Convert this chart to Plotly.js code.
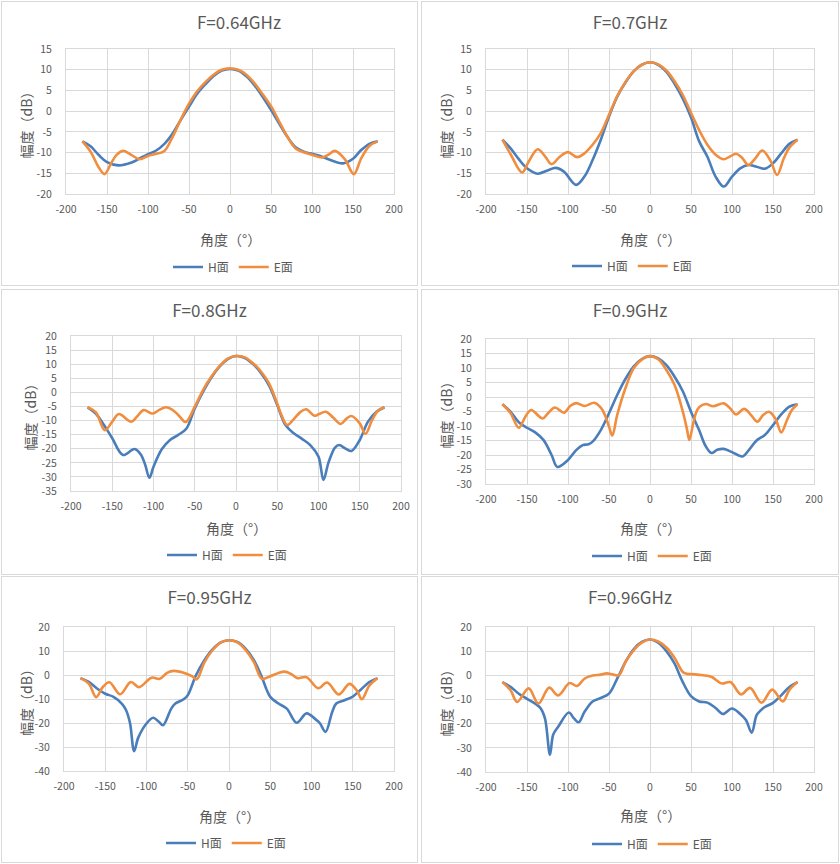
<!DOCTYPE html>
<html>
<head>
<meta charset="utf-8">
<script src="https://cdn.plot.ly/plotly-3.0.1.min.js"></script>
<style>
  body { margin: 0; background: #fff; }
  .panel { position: absolute; border: 1px solid #d9d9d9; box-sizing: border-box; background: #fff; }
</style>
</head>
<body>
<div id="p1" class="panel"></div>
<div id="p2" class="panel"></div>
<div id="p3" class="panel"></div>
<div id="p4" class="panel"></div>
<div id="p5" class="panel"></div>
<div id="p6" class="panel"></div>
<script>
// values, angle in degrees / level in dB
const titles = ["F=0.64GHz", "F=0.7GHz", "F=0.8GHz", "F=0.9GHz", "F=0.95GHz", "F=0.96GHz"]
const seriesNames = ["H面", "E面"]
const xTicks = [-200, -150, -100, -50, 0, 50, 100, 150, 200]
const yTicksA = [-20, -15, -10, -5, 0, 5, 10, 15]
const yTicksB = [-35, -30, -25, -20, -15, -10, -5, 0, 5, 10, 15, 20]
const yTicksC = [-30, -25, -20, -15, -10, -5, 0, 5, 10, 15, 20]
const yTicksD = [-40, -30, -20, -10, 0, 10, 20]

// F=0.64GHz
const h064Deg = [-180,-170,-160,-150,-136,-120,-110,-100,-90,-80,-70,-60,-50,-40,-30,-20,-10,0,10,20,30,40,50,60,70,80,90,100,110,120,138,150,160,170,180]
const h064Db  = [-7.3,-8.5,-10.6,-12.3,-13.1,-12.4,-11.4,-10.4,-9.5,-7.9,-5.4,-2.1,1.1,4.2,6.5,8.5,9.8,10.2,9.8,8.4,6.2,3.4,0.3,-3.0,-6.2,-8.7,-9.8,-10.3,-10.8,-11.6,-12.6,-11.5,-9.4,-7.9,-7.3]
const e064Deg = [-180,-170,-160,-153,-145,-138,-130,-120,-110,-100,-90,-80,-70,-60,-50,-40,-30,-20,-10,0,10,20,30,40,50,60,70,80,90,100,112,120,128,140,151,160,170,180]
const e064Db  = [-7.3,-9.8,-13.6,-15.2,-12.6,-10.5,-9.6,-10.6,-11.6,-10.8,-10.3,-9.6,-6.2,-2.0,1.8,4.8,7.0,8.8,10.0,10.3,10.0,8.8,6.7,4.0,1.2,-2.5,-6.2,-9.0,-9.9,-10.5,-11.2,-10.5,-9.6,-11.6,-15.2,-11.4,-8.4,-7.3]

// F=0.7GHz
const h070Deg = [-180,-170,-160,-150,-137,-125,-115,-105,-90,-80,-70,-60,-50,-40,-30,-20,-10,0,10,20,30,40,50,60,70,80,90,100,110,120,130,140,150,160,170,180]
const h070Db  = [-6.9,-9.0,-11.6,-13.8,-15.1,-14.3,-13.7,-14.6,-17.8,-15.8,-11.8,-6.9,-1.3,3.5,6.9,9.6,11.2,11.8,11.2,9.5,6.6,3.0,-1.5,-7.3,-11.0,-15.8,-18.2,-15.8,-13.8,-13.0,-13.4,-13.9,-12.6,-10.2,-7.9,-6.9]
const e070Deg = [-180,-170,-156,-148,-137,-128,-120,-110,-100,-89,-80,-70,-60,-50,-40,-30,-20,-10,0,10,20,30,40,50,60,70,80,90,97,105,112,120,128,137,147,155,163,170,180]
const e070Db  = [-6.9,-10.4,-14.8,-12.2,-9.2,-10.9,-12.8,-11.0,-9.9,-11.1,-10.2,-8.1,-5.3,-0.9,3.6,7.0,9.6,11.2,11.8,11.3,9.8,7.2,3.9,-0.4,-4.6,-8.1,-10.5,-11.6,-11.0,-10.3,-11.2,-13.0,-11.5,-9.5,-12.0,-15.4,-11.5,-8.8,-6.9]

// F=0.8GHz
const h080Deg = [-180,-170,-160,-150,-137,-123,-115,-110,-105,-100,-90,-80,-70,-60,-50,-40,-30,-20,-10,0,10,20,30,40,50,60,70,80,90,100,106,112,120,125,133,140,150,160,170,180]
const h080Db  = [-5.3,-7.5,-11.6,-16.3,-22.2,-20.1,-22.2,-25.8,-30.3,-26.4,-20.2,-16.9,-15.1,-12.8,-5.7,0.2,5.2,9.1,11.8,12.9,12.3,10.2,7.0,2.5,-4.5,-11.6,-14.5,-16.5,-18.7,-22.8,-31.1,-25.0,-19.6,-18.7,-20.0,-20.8,-16.9,-10.4,-7.0,-5.3]
const e080Deg = [-180,-170,-159,-150,-142,-127,-120,-112,-101,-93,-85,-78,-70,-61,-50,-40,-30,-20,-10,0,10,20,30,40,50,55,62,70,78,85,95,100,109,118,127,134,140,150,157,165,172,180]
const e080Db  = [-5.3,-7.0,-13.4,-10.4,-7.7,-10.4,-8.6,-6.3,-7.5,-6.2,-5.3,-6.0,-8.0,-10.5,-5.1,0.8,5.5,9.3,12.0,12.9,12.5,10.5,7.5,3.2,-4.0,-8.0,-11.6,-9.5,-7.0,-6.0,-8.3,-7.8,-6.9,-9.0,-11.2,-9.3,-8.4,-11.0,-14.7,-9.8,-6.5,-5.3]

// F=0.9GHz
const h090Deg = [-180,-170,-160,-150,-140,-130,-120,-113,-100,-90,-82,-75,-70,-60,-50,-40,-30,-20,-10,0,10,20,30,40,50,60,68,75,82,90,100,113,120,130,140,150,160,170,180]
const h090Db  = [-2.5,-5.1,-8.7,-10.6,-12.2,-14.8,-20.0,-24.1,-21.7,-18.3,-16.6,-16.3,-15.4,-11.4,-5.6,0.7,6.2,10.5,13.1,14.1,13.3,11.0,7.0,2.0,-5.1,-11.5,-17.0,-19.3,-18.2,-17.9,-19.0,-20.5,-18.5,-15.0,-13.1,-9.7,-6.0,-3.3,-2.5]
const e090Deg = [-180,-170,-160,-152,-145,-131,-124,-116,-105,-97,-90,-80,-68,-60,-55,-50,-46,-40,-30,-20,-10,0,10,20,30,40,45,48,52,56,60,68,77,90,98,105,115,124,131,138,145,153,160,167,173,180]
const e090Db  = [-2.5,-5.6,-10.6,-6.8,-4.5,-7.4,-5.5,-3.6,-5.4,-3.0,-2.1,-3.1,-2.0,-3.7,-6.2,-10.2,-13.3,-6.2,3.0,9.9,12.9,14.1,13.0,9.3,4.1,-5.0,-11.0,-14.8,-10.0,-5.5,-3.5,-2.4,-3.2,-2.2,-4.0,-6.0,-4.1,-6.5,-8.5,-6.2,-5.1,-7.5,-12.2,-8.0,-4.5,-2.5]

// F=0.95GHz
const h095Deg = [-180,-170,-160,-150,-140,-130,-125,-120,-115,-110,-100,-92,-85,-80,-70,-65,-55,-50,-40,-30,-20,-10,0,10,20,30,40,45,50,60,70,82,94,105,110,117,125,130,140,150,160,170,180]
const h095Db  = [-1.3,-2.9,-5.6,-7.8,-9.1,-11.9,-14.5,-20.0,-31.7,-26.1,-20.2,-17.8,-19.5,-20.9,-14.0,-11.9,-10.1,-8.4,-0.1,6.1,10.7,13.6,14.5,13.8,11.0,6.3,-1.0,-5.6,-9.1,-11.9,-14.0,-19.9,-16.0,-18.5,-20.0,-23.7,-15.5,-11.9,-10.5,-9.0,-6.0,-3.0,-1.3]
const e095Deg = [-180,-170,-161,-153,-145,-132,-119,-109,-94,-84,-75,-67,-55,-45,-39,-30,-20,-10,0,10,20,30,40,50,60,67,75,83,94,108,119,133,146,155,161,170,180]
const e095Db  = [-1.3,-3.6,-9.2,-5.0,-3.0,-8.0,-2.9,-5.1,-1.1,-1.6,0.9,1.7,0.9,-0.5,-1.8,5.2,10.3,13.5,14.5,13.6,10.5,5.5,-1.6,-0.5,0.8,1.4,0.5,-1.3,-0.9,-5.5,-3.1,-8.1,-3.7,-6.5,-10.1,-4.5,-1.3]

// F=0.96GHz
const h096Deg = [-180,-170,-160,-150,-140,-133,-128,-122,-118,-112,-99,-93,-87,-80,-70,-60,-50,-40,-30,-20,-10,0,10,20,30,35,40,50,60,70,80,89,100,110,117,124,130,135,140,150,160,170,180]
const h096Db  = [-2.8,-4.8,-7.6,-9.7,-11.7,-13.8,-17.9,-32.8,-24.5,-21.3,-15.4,-17.7,-19.4,-15.2,-10.8,-9.4,-7.6,-1.4,5.5,10.8,13.8,14.8,13.5,10.0,4.8,1.0,-2.8,-8.6,-10.8,-11.3,-13.5,-16.0,-13.7,-16.0,-18.5,-23.7,-16.5,-14.5,-13.1,-11.4,-8.3,-4.8,-2.8]
const e096Deg = [-180,-170,-162,-148,-136,-123,-112,-98,-89,-80,-70,-60,-53,-45,-38,-30,-20,-10,0,10,20,30,40,45,50,60,70,76,82,88,98,111,122,136,149,162,170,180]
const e096Db  = [-2.8,-6.2,-11.0,-5.4,-11.7,-5.1,-8.3,-3.2,-4.4,-1.4,-0.1,0.3,0.8,0.3,0.0,5.5,10.3,13.5,14.8,14.0,11.5,7.2,1.4,0.6,0.5,0.2,-0.2,-0.8,-2.3,-3.4,-2.8,-7.9,-5.2,-11.3,-5.9,-10.8,-6.0,-2.8]

const BLUE = "#4a7ebb"
const ORANGE = "#f08d3e"
const GRID = "#d9d9d9"
const TEXT = "#595959"
const FONT = '"Noto Sans CJK SC", "Noto Sans", sans-serif'

// box = outer div, m = plot margins inside the border, tx = title centre,
// yt/xt = axis title offsets, lg = legend centre (px from plot left, px below plot)
const panels = [
  {id: "p1", box: [1, 1, 417, 285],   m: [64, 23, 47, 91], tx: 237, yt: 41, xt: 45, lg: [167, 73], yTicks: yTicksA, h: [h064Deg, h064Db], e: [e064Deg, e064Db]},
  {id: "p2", box: [421, 1, 418, 285], m: [64, 24, 47, 91], tx: null, yt: 41, xt: 45, lg: [146, 72], yTicks: yTicksA, h: [h070Deg, h070Db], e: [e070Deg, e070Db]},
  {id: "p3", box: [1, 289, 417, 286], m: [69, 16, 46, 83], tx: null, yt: 42, xt: 37, lg: [156, 64], yTicks: yTicksB, h: [h080Deg, h080Db], e: [e080Deg, e080Db]},
  {id: "p4", box: [421, 289, 418, 286], m: [64, 24, 49, 90], tx: null, yt: 41, xt: 44, lg: [166, 72], yTicks: yTicksC, h: [h090Deg, h090Db], e: [e090Deg, e090Db]},
  {id: "p5", box: [1, 576, 417, 287], m: [62, 23, 50, 91], tx: null, yt: 38, xt: 45, lg: [162, 72], yTicks: yTicksD, h: [h095Deg, h095Db], e: [e095Deg, e095Db]},
  {id: "p6", box: [421, 576, 418, 287], m: [64, 24, 50, 90], tx: null, yt: 41, xt: 43, lg: [166, 72], yTicks: yTicksD, h: [h096Deg, h096Db], e: [e096Deg, e096Db]},
]

panels.forEach(function(p, i) {
  const div = document.getElementById(p.id)
  div.style.left = p.box[0] + "px"
  div.style.top = p.box[1] + "px"
  div.style.width = p.box[2] + "px"
  div.style.height = p.box[3] + "px"

  const W = p.box[2] - 2
  const H = p.box[3] - 2
  const yTicks = p.yTicks
  const legendX = p.m[0] + p.lg[0]
  const legendY = H - p.m[3] + p.lg[1]

  const hTrace = {
    name: seriesNames[0], x: p.h[0], y: p.h[1], type: "scatter", mode: "lines",
    line: {color: BLUE, width: 2.6, shape: "spline", smoothing: 1}
  }
  const eTrace = {
    name: seriesNames[1], x: p.e[0], y: p.e[1], type: "scatter", mode: "lines",
    line: {color: ORANGE, width: 2.6, shape: "spline", smoothing: 1}
  }

  const axisBase = {
    showgrid: true, gridcolor: GRID, gridwidth: 1,
    zeroline: false, showline: true, linecolor: GRID, linewidth: 1, mirror: true,
    ticks: "", tickfont: {size: 10.5, color: TEXT}, fixedrange: true, automargin: false
  }

  const layout = {
    width: W, height: H,
    margin: {l: p.m[0], r: p.m[1], t: p.m[2], b: p.m[3], pad: 0, autoexpand: false},
    paper_bgcolor: "#fff", plot_bgcolor: "#fff",
    font: {family: FONT, color: TEXT},
    title: {
      text: titles[i], font: {size: 17, color: TEXT},
      x: p.tx === null ? 0.5 : p.tx / W, xanchor: "center",
      y: 1 - 21 / H, yanchor: "middle"
    },
    xaxis: Object.assign({}, axisBase, {
      range: [xTicks[0], xTicks[xTicks.length - 1]],
      tickvals: xTicks, ticktext: xTicks.map(String), ticklabelstandoff: 5
    }),
    yaxis: Object.assign({}, axisBase, {
      range: [yTicks[0], yTicks[yTicks.length - 1]],
      tickvals: yTicks, ticktext: yTicks.map(String), ticklabelstandoff: 11
    }),
    showlegend: true,
    legend: {
      orientation: "h", xref: "container", yref: "container",
      x: legendX / W, xanchor: "center",
      y: 1 - legendY / H, yanchor: "middle",
      font: {size: 12, color: TEXT}, bgcolor: "rgba(0,0,0,0)", itemwidth: 30
    },
    annotations: [
      {text: "角度（°）", xref: "paper", yref: "paper", x: 0.5, y: 0, yanchor: "middle",
       yshift: -p.xt, showarrow: false, font: {size: 14, color: TEXT}},
      {text: "幅度（dB）", xref: "paper", yref: "paper", x: 0, y: 0.5, xanchor: "center",
       xshift: -p.yt, textangle: -90, showarrow: false, font: {size: 14, color: TEXT}}
    ]
  }

  Plotly.newPlot(p.id, [hTrace, eTrace], layout, {staticPlot: true, displayModeBar: false})
})
</script>
</body>
</html>
